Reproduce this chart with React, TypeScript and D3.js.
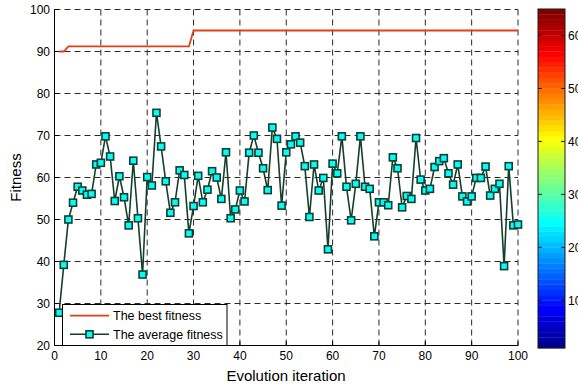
import React from "react";
import * as d3 from "d3";

const iterations = d3.range(1, 101);
const bestFitness = [
  90, 90, 91.2, 91.2, 91.2, 91.2, 91.2, 91.2, 91.2, 91.2,
  91.2, 91.2, 91.2, 91.2, 91.2, 91.2, 91.2, 91.2, 91.2, 91.2,
  91.2, 91.2, 91.2, 91.2, 91.2, 91.2, 91.2, 91.2, 91.2, 95,
  95, 95, 95, 95, 95, 95, 95, 95, 95, 95,
  95, 95, 95, 95, 95, 95, 95, 95, 95, 95,
  95, 95, 95, 95, 95, 95, 95, 95, 95, 95,
  95, 95, 95, 95, 95, 95, 95, 95, 95, 95,
  95, 95, 95, 95, 95, 95, 95, 95, 95, 95,
  95, 95, 95, 95, 95, 95, 95, 95, 95, 95,
  95, 95, 95, 95, 95, 95, 95, 95, 95, 95,
];
const averageFitness = [
  27.8, 39.2, 50.0, 54.0, 57.8, 56.9, 55.9, 56.1, 63.1, 63.5,
  69.8, 65.0, 54.4, 60.3, 55.3, 48.6, 64.0, 50.3, 36.9, 60.1,
  58.1, 75.4, 67.4, 59.1, 51.6, 54.1, 61.7, 60.6, 46.7, 53.2,
  60.4, 54.1, 57.1, 61.5, 60.0, 54.9, 66.0, 50.3, 52.4, 56.9,
  54.3, 65.9, 70.0, 65.9, 62.2, 57.0, 71.9, 69.2, 53.3, 66.0,
  67.9, 69.8, 68.3, 62.7, 50.6, 63.1, 56.9, 59.9, 42.9, 63.3,
  61.0, 69.8, 57.8, 49.8, 58.5, 69.8, 57.8, 57.3, 46.0, 54.1,
  54.1, 53.4, 64.8, 62.2, 52.9, 55.6, 54.9, 69.4, 59.5, 56.9,
  57.3, 62.5, 63.9, 64.6, 61.0, 58.3, 63.1, 55.5, 54.3, 55.5,
  59.9, 59.9, 62.6, 55.7, 57.3, 58.5, 38.9, 62.7, 48.6, 48.8,
];
const xTicks = [0, 10, 20, 30, 40, 50, 60, 70, 80, 90, 100];
const yTicks = [20, 30, 40, 50, 60, 70, 80, 90, 100];
const cbTicks = [10, 20, 30, 40, 50, 60];
const legendLabels = ["The best fitness", "The average fitness"];

function jet(m: number): string[] {
  const n = Math.ceil(m / 4);
  const u: number[] = [];
  for (let i = 1; i <= n; i++) u.push(i / n);
  for (let i = 1; i <= n - 1; i++) u.push(1);
  for (let i = n; i >= 1; i--) u.push(i / n);
  const r = new Array(m).fill(0);
  const g = new Array(m).fill(0);
  const b = new Array(m).fill(0);
  const off = Math.ceil(n / 2) - (m % 4 === 1 ? 1 : 0);
  u.forEach((v, k) => {
    const gi = off + k + 1;
    const ri = gi + n;
    const bi = gi - n;
    if (gi >= 1 && gi <= m) g[gi - 1] = v;
    if (ri >= 1 && ri <= m) r[ri - 1] = v;
    if (bi >= 1 && bi <= m) b[bi - 1] = v;
  });
  return r.map((_, i) => d3.rgb(r[i] * 255, g[i] * 255, b[i] * 255).formatHex());
}

export default function App() {
  const W = 578, H = 387;
  const x = d3.scaleLinear().domain([0, 100]).range([54.5, 518]);
  const y = d3.scaleLinear().domain([20, 100]).range([345.5, 9.5]);
  const cbY = d3.scaleLinear().domain([1, 65]).range([348, 9]);
  const colors = jet(64);
  const font = "'Liberation Sans', Arial, Helvetica, sans-serif";

  const bestLine = d3.line<number>().x((_, i) => x(iterations[i])).y((d) => y(d))(bestFitness) || "";
  const avgLine = d3.line<number>().x((_, i) => x(iterations[i])).y((d) => y(d))(averageFitness) || "";

  const gridColor = "#2a2a2a";
  const dash = "6,4";
  const ms = 7;

  const lg = { x0: 62.5, y0: 304.5, x1: 227, y1: 345.5 };

  return (
    <svg width={W} height={H} style={{ position: "absolute", left: 0, top: 0, background: "#fff" }} fontFamily={font}>
      <rect x={0} y={0} width={W} height={H} fill="#fff" />
      {xTicks.filter((t) => t > 0).map((t) => (
        <line key={"gx" + t} x1={x(t)} x2={x(t)} y1={y(20)} y2={y(100)} stroke={gridColor} strokeWidth={1} strokeDasharray={dash} />
      ))}
      {yTicks.filter((t) => t > 20).map((t) => (
        <line key={"gy" + t} x1={x(0)} x2={x(100)} y1={y(t)} y2={y(t)} stroke={gridColor} strokeWidth={1} strokeDasharray={dash} />
      ))}
      {xTicks.map((t) => (
        <line key={"tx" + t} x1={x(t)} x2={x(t)} y1={y(20)} y2={y(20) - 4} stroke="#000" strokeWidth={1} />
      ))}
      {yTicks.map((t) => (
        <line key={"ty" + t} x1={x(0)} x2={x(0) + 4} y1={y(t)} y2={y(t)} stroke="#000" strokeWidth={1} />
      ))}
      <line x1={x(0)} x2={x(0)} y1={y(20)} y2={y(100)} stroke="#000" strokeWidth={1} />
      <line x1={x(0)} x2={x(100)} y1={y(20)} y2={y(20)} stroke="#000" strokeWidth={1} />
      <path d={bestLine} fill="none" stroke="#e2401b" strokeWidth={1.8} />
      <path d={avgLine} fill="none" stroke="#133f2b" strokeWidth={1.6} />
      {averageFitness.map((v, i) => (
        <rect key={"m" + i} x={x(iterations[i]) - ms / 2} y={y(v) - ms / 2} width={ms} height={ms} fill="#00ffff" stroke="#133f2b" strokeWidth={1.6} />
      ))}
      {xTicks.map((t) => (
        <text key={"lx" + t} x={x(t)} y={360} fontSize={12} textAnchor="middle" fill="#000">{t}</text>
      ))}
      {yTicks.map((t) => (
        <text key={"ly" + t} x={50} y={y(t)} dy="0.35em" fontSize={12} textAnchor="end" fill="#000">{t}</text>
      ))}
      <text x={286} y={381} fontSize={15} textAnchor="middle" fill="#000">Evolution iteration</text>
      <text transform={`translate(21,${(y(20) + y(100)) / 2}) rotate(-90)`} fontSize={15} textAnchor="middle" fill="#000">Fitness</text>
      <rect x={lg.x0} y={lg.y0} width={lg.x1 - lg.x0} height={lg.y1 - lg.y0} fill="#fff" stroke="#000" strokeWidth={1} />
      <line x1={70} x2={109} y1={315.7} y2={315.7} stroke="#e2401b" strokeWidth={1.8} />
      <line x1={70} x2={109} y1={334.3} y2={334.3} stroke="#133f2b" strokeWidth={1.6} />
      <rect x={89.5 - ms / 2} y={334.3 - ms / 2} width={ms} height={ms} fill="#00ffff" stroke="#133f2b" strokeWidth={1.6} />
      <text x={113} y={315.7} dy="0.35em" fontSize={12.5} fill="#000">{legendLabels[0]}</text>
      <text x={113} y={334.3} dy="0.35em" fontSize={12.5} fill="#000">{legendLabels[1]}</text>
      {colors.map((c, i) => (
        <rect key={"cb" + i} x={538} y={cbY(i + 2)} width={27} height={cbY(i + 1) - cbY(i + 2) + 0.3} fill={c} />
      ))}
      <rect x={538} y={9} width={27} height={339} fill="none" stroke="#1a1a1a" strokeWidth={1} />
      {cbTicks.map((t) => (
        <g key={"cbt" + t}>
          <line x1={565} x2={561} y1={cbY(t)} y2={cbY(t)} stroke="#1a1a1a" strokeWidth={1} />
          <line x1={538} x2={542} y1={cbY(t)} y2={cbY(t)} stroke="#1a1a1a" strokeWidth={1} />
          <text x={568} y={cbY(t)} dy="0.35em" fontSize={12} fill="#000">{t}</text>
        </g>
      ))}
    </svg>
  );
}
